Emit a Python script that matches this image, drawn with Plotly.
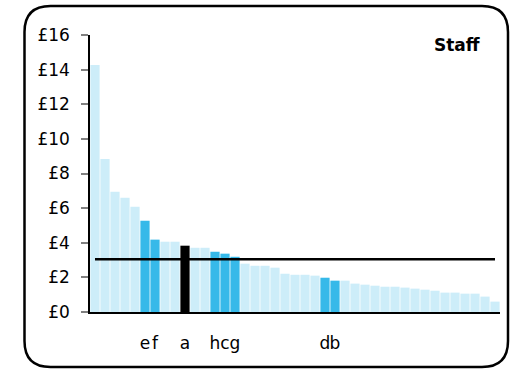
import plotly.graph_objects as go

# Data
values = [14.26, 8.84, 6.94, 6.60, 6.08, 5.27, 4.18, 4.06, 4.06, 3.83,
          3.71, 3.71, 3.48, 3.37, 3.19, 2.79, 2.67, 2.67, 2.56, 2.21,
          2.15, 2.15, 2.10, 1.98, 1.81, 1.81, 1.64, 1.58, 1.52, 1.46,
          1.46, 1.41, 1.35, 1.29, 1.23, 1.12, 1.12, 1.06, 1.06, 0.89, 0.60]
highlight = {5: "e", 6: "f", 9: "a", 12: "h", 13: "c", 14: "g", 23: "d", 24: "b"}
selected = 9
average = 3.04
y_ticks = [0, 2, 4, 6, 8, 10, 12, 14, 16]
y_tick_labels = ["£" + str(v) for v in y_ticks]
title_text = "Staff"

LIGHT = "#cdedf9"
DARK = "#36b9e9"
FONT = "DejaVu Sans, Arial"

colors = []
for i in range(len(values)):
    if i == selected:
        colors.append("#000000")
    elif i in highlight:
        colors.append(DARK)
    else:
        colors.append(LIGHT)

W, H = 515, 369
ML, MR, MT, MB = 90, 15, 35, 57
PW = W - ML - MR
PH = H - MT - MB

fig = go.Figure()
fig.add_trace(go.Bar(x=list(range(len(values))), y=values, marker=dict(color=colors, line=dict(width=0)),
                     hoverinfo="y"))
fig.add_trace(go.Scatter(x=[0, len(values) - 1], y=[average, average], mode="lines",
                         line=dict(color="#000000", width=2.5), hoverinfo="skip"))

def px2paper(px, py):
    return (px - ML) / PW, (H - MB - py) / PH

def rounded_rect(x0, y0, x1, y1, r):
    def P(x, y):
        a, b = px2paper(x, y)
        return f"{a:.5f},{b:.5f}"
    d = f"M {P(x0 + r, y0)} L {P(x1 - r, y0)} Q {P(x1, y0)} {P(x1, y0 + r)} "
    d += f"L {P(x1, y1 - r)} Q {P(x1, y1)} {P(x1 - r, y1)} "
    d += f"L {P(x0 + r, y1)} Q {P(x0, y1)} {P(x0, y1 - r)} "
    d += f"L {P(x0, y0 + r)} Q {P(x0, y0)} {P(x0 + r, y0)} Z"
    return d

fig.add_shape(type="path", xref="paper", yref="paper",
              path=rounded_rect(24.5, 6, 508, 367, 26),
              line=dict(color="#000000", width=2.5), layer="above")

fig.add_annotation(text="<b>" + title_text + "</b>", xref="paper", yref="paper",
                   x=(482 - ML) / PW, y=(H - MB - 45) / PH, xanchor="right", yanchor="middle",
                   showarrow=False, font=dict(size=17, color="#000000", family=FONT))

fig.update_layout(
    width=W, height=H, margin=dict(l=ML, r=MR, t=MT, b=MB),
    paper_bgcolor="white", plot_bgcolor="white", showlegend=False, bargap=0.08,
    font=dict(family=FONT, color="#000000", size=17),
)
fig.update_xaxes(range=[-0.5, len(values) - 0.5], tickmode="array",
                 tickvals=list(highlight.keys()), ticktext=list(highlight.values()),
                 showline=True, linecolor="#000000", linewidth=1.5, ticks="",
                 showgrid=False, zeroline=False, ticklabelstandoff=15, tickangle=0,
                 tickfont=dict(size=17))
fig.update_yaxes(range=[0, 16], tickmode="array", tickvals=y_ticks, ticktext=y_tick_labels,
                 showline=True, linecolor="#000000", linewidth=1.5, ticks="outside",
                 ticklen=7, tickcolor="#808080", tickwidth=1.5, showgrid=False, zeroline=False,
                 ticklabelstandoff=8, tickfont=dict(size=17))

fig.write_html("out.html", config={"displayModeBar": False},
               post_script="document.body.style.margin='0';document.body.style.overflow='hidden';")
